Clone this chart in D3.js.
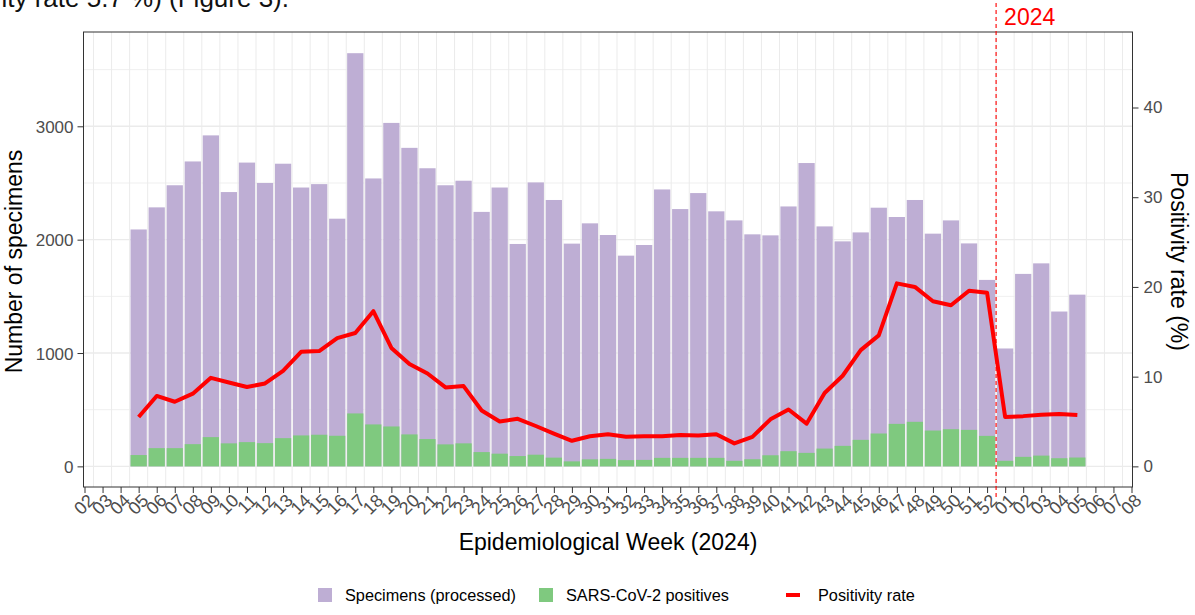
<!DOCTYPE html>
<html>
<head>
<meta charset="utf-8">
<script src="https://cdn.jsdelivr.net/npm/d3@7"></script>
<style>
  body { margin: 0; background: #fff; }
  svg { display: block; font-family: "Liberation Sans", Arial, Helvetica, sans-serif; }
</style>
</head>
<body>
<div id="chart"></div>
<script>
// weeks with data: 2024-W05 .. 2024-W52, then 2025-W01 .. 2025-W05
const weeks = ['05','06','07','08','09','10','11','12','13','14','15','16','17','18','19','20',
  '21','22','23','24','25','26','27','28','29','30','31','32','33','34','35','36','37','38','39','40',
  '41','42','43','44','45','46','47','48','49','50','51','52','01','02','03','04','05'];

const specimens = [2090, 2285, 2480, 2690, 2920, 2420, 2680, 2500, 2670, 2460, 2490, 2185, 3645, 2540,
  3030, 2810, 2630, 2480, 2520, 2245, 2460, 1962, 2505, 2350, 1965, 2144, 2041, 1859, 1953, 2443,
  2270, 2411, 2250, 2170, 2047, 2038, 2293, 2676, 2117, 1985, 2064, 2282, 2200, 2350, 2053, 2170,
  1967, 1645, 1040, 1698, 1791, 1366, 1515];

const positives = [100, 161, 161, 196, 258, 203, 214, 205, 249, 273, 279, 270, 467, 370, 352, 282,
  241, 194, 203, 126, 112, 91, 103, 77, 44, 62, 66, 55, 57, 75, 75, 75, 75, 49, 63, 98, 134, 119,
  157, 181, 234, 290, 375, 393, 316, 328, 322, 269, 49, 84, 95, 72, 78];

const positivity = [5.5, 7.85, 7.2, 8.1, 9.87, 9.35, 8.84, 9.24, 10.64, 12.77, 12.85, 14.3, 14.87, 17.3,
  13.2, 11.4, 10.35, 8.8, 8.95, 6.23, 5.0, 5.3, 4.5, 3.66, 2.85, 3.36, 3.58, 3.29, 3.36, 3.36, 3.5,
  3.44, 3.58, 2.56, 3.29, 5.24, 6.34, 4.76, 8.18, 10.1, 12.96, 14.6, 20.4, 20.0, 18.4, 17.96, 19.58,
  19.36, 5.5, 5.6, 5.75, 5.83, 5.72];

// x axis: 2024-W02 .. 2025-W08
const tickLabels = ['02','03','04','05','06','07','08','09','10','11','12','13','14','15','16','17',
  '18','19','20','21','22','23','24','25','26','27','28','29','30','31','32','33','34','35','36','37',
  '38','39','40','41','42','43','44','45','46','47','48','49','50','51','52',
  '01','02','03','04','05','06','07','08'];

const countTicks = [0, 1000, 2000, 3000];
const countMinor = [500, 1500, 2500, 3500];
const rateTicks = [0, 10, 20, 30, 40];

const width = 1195, height = 615;
const panel = { left: 83.5, right: 1132.5, top: 32, bottom: 487 };
const firstTick = -3;   // week 02 relative to first data week (05)
const yearBreak = 47.5; // between W52 and W01

const purple = '#beaed4', green = '#7fc97f', red = '#ff0000';

const svg = d3.select('#chart').append('svg')
    .attr('width', width)
    .attr('height', height);

const x = d3.scaleLinear()
    .domain([firstTick, firstTick + tickLabels.length - 1])
    .range([panel.left + 1, panel.right - 1]);
const y = d3.scaleLinear().domain([-182, 3832]).range([panel.bottom, panel.top]);
const yRate = d3.scaleLinear().domain([0, 40]).range([y(0), 107.5]);
const step = x(1) - x(0);

// text fragment from the page above the chart (clipped at the top, as in the screenshot)
svg.append('text')
    .attr('x', 289).attr('y', 7)
    .attr('text-anchor', 'end')
    .attr('font-size', 26)
    .attr('fill', '#111')
    .text('positivity rate 5.7 %) (Figure 3).');

// gridlines
const grid = svg.append('g');
grid.selectAll('line.minor')
    .data(countMinor)
    .enter().append('line')
    .attr('x1', panel.left).attr('x2', panel.right)
    .attr('y1', d => y(d)).attr('y2', d => y(d))
    .attr('stroke', '#ebebeb').attr('stroke-width', 0.8);
grid.selectAll('line.major')
    .data(countTicks)
    .enter().append('line')
    .attr('x1', panel.left).attr('x2', panel.right)
    .attr('y1', d => y(d)).attr('y2', d => y(d))
    .attr('stroke', '#ebebeb').attr('stroke-width', 1.4);
grid.selectAll('line.vert')
    .data(d3.range(firstTick, firstTick + tickLabels.length - 1))
    .enter().append('line')
    .attr('x1', d => x(d + 0.5)).attr('x2', d => x(d + 0.5))
    .attr('y1', panel.top).attr('y2', panel.bottom)
    .attr('stroke', '#ebebeb').attr('stroke-width', 1);

// bars
const barW = step * 0.9;
svg.append('g').selectAll('rect')
    .data(specimens)
    .enter().append('rect')
    .attr('x', (d, i) => x(i) - barW / 2)
    .attr('width', barW)
    .attr('y', d => y(d))
    .attr('height', d => y(0) - y(d))
    .attr('fill', purple);

svg.append('g').selectAll('rect')
    .data(positives)
    .enter().append('rect')
    .attr('x', (d, i) => x(i) - barW / 2)
    .attr('width', barW)
    .attr('y', d => y(d))
    .attr('height', d => y(0) - y(d))
    .attr('fill', green);

// positivity line
const line = d3.line()
    .x((d, i) => x(i))
    .y(d => yRate(d));
svg.append('path')
    .datum(positivity)
    .attr('d', line)
    .attr('fill', 'none')
    .attr('stroke', red)
    .attr('stroke-width', 4)
    .attr('stroke-linejoin', 'round');

// panel border
svg.append('rect')
    .attr('x', panel.left).attr('y', panel.top)
    .attr('width', panel.right - panel.left)
    .attr('height', panel.bottom - panel.top)
    .attr('fill', 'none')
    .attr('stroke', '#333')
    .attr('stroke-width', 1);

// year marker
svg.append('line')
    .attr('x1', x(yearBreak)).attr('x2', x(yearBreak))
    .attr('y1', 3).attr('y2', 497)
    .attr('stroke', red)
    .attr('stroke-opacity', 0.8)
    .attr('stroke-width', 1.4)
    .attr('stroke-dasharray', '4,3');
svg.append('text')
    .attr('x', x(yearBreak) + 8).attr('y', 25)
    .attr('font-size', 23)
    .attr('fill', red)
    .text('2024');

// axes
function styleAxis(g) {
    g.select('.domain').remove();
    g.selectAll('.tick line').attr('stroke', '#333').attr('stroke-width', 1);
    g.selectAll('.tick text').attr('fill', '#4d4d4d').attr('font-size', 17)
        .attr('font-family', '"Liberation Sans", Arial, sans-serif');
}

svg.append('g')
    .attr('transform', `translate(${panel.left},0)`)
    .call(d3.axisLeft(y).tickValues(countTicks).tickFormat(d3.format('d')).tickSize(6).tickPadding(4))
    .call(styleAxis)
    .selectAll('.tick text').attr('dy', '0.36em');

svg.append('g')
    .attr('transform', `translate(${panel.right},0)`)
    .call(d3.axisRight(yRate).tickValues(rateTicks).tickFormat(d3.format('d')).tickSize(6).tickPadding(5))
    .call(styleAxis);

const xAxis = svg.append('g')
    .attr('transform', `translate(0,${panel.bottom})`)
    .call(d3.axisBottom(x)
        .tickValues(d3.range(firstTick, firstTick + tickLabels.length))
        .tickFormat((d, i) => tickLabels[i])
        .tickSize(6))
    .call(styleAxis);
xAxis.selectAll('.tick text')
    .attr('font-size', 18)
    .attr('text-anchor', 'end')
    .attr('transform', 'translate(1,5) rotate(-45)')
    .attr('y', 0)
    .attr('dy', '0.75em');

// axis titles
svg.append('text')
    .attr('transform', `translate(22,${(panel.top + panel.bottom) / 2 + 2}) rotate(-90)`)
    .attr('text-anchor', 'middle')
    .attr('font-size', 23)
    .text('Number of specimens');

svg.append('text')
    .attr('transform', `translate(1171,${(panel.top + panel.bottom) / 2 + 2}) rotate(90)`)
    .attr('text-anchor', 'middle')
    .attr('font-size', 23)
    .text('Positivity rate (%)');

svg.append('text')
    .attr('x', (panel.left + panel.right) / 2)
    .attr('y', 550)
    .attr('text-anchor', 'middle')
    .attr('font-size', 23)
    .text('Epidemiological Week (2024)');

// legend
const legend = svg.append('g').attr('transform', 'translate(0,595)');
const items = [
    { label: 'Specimens (processed)', color: purple, type: 'box', x: 318 },
    { label: 'SARS-CoV-2 positives', color: green, type: 'box', x: 539 },
    { label: 'Positivity rate', color: red, type: 'line', x: 786 }
];
items.forEach(it => {
    if (it.type === 'box') {
        legend.append('rect')
            .attr('x', it.x).attr('y', -7)
            .attr('width', 14).attr('height', 14)
            .attr('fill', it.color);
    } else {
        legend.append('line')
            .attr('x1', it.x).attr('x2', it.x + 14)
            .attr('y1', 0).attr('y2', 0)
            .attr('stroke', it.color).attr('stroke-width', 4);
    }
    legend.append('text')
        .attr('x', it.x + (it.type === 'box' ? 27 : 32))
        .attr('y', 0)
        .attr('dy', '0.36em')
        .attr('font-size', 16.3)
        .text(it.label);
});
</script>
</body>
</html>
